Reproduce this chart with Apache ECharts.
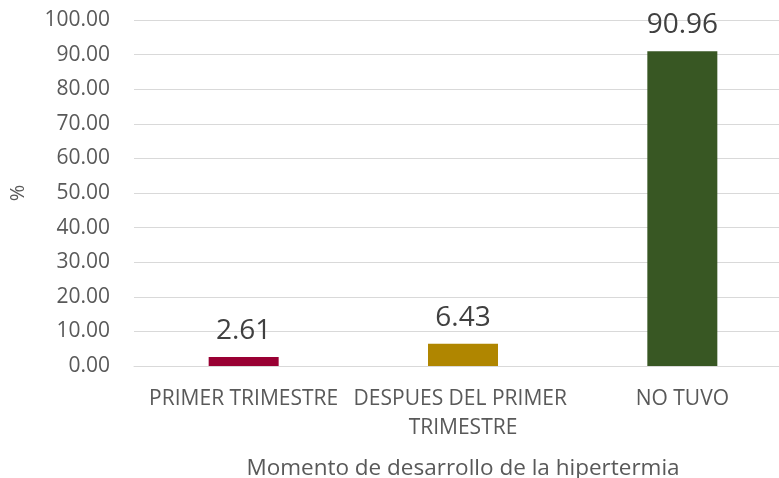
<!DOCTYPE html>
<html><head><meta charset="utf-8">
<script src="https://cdn.jsdelivr.net/npm/echarts@6/dist/echarts.min.js"></script>
<style>html,body{margin:0;padding:0;background:#fff}#c{width:779px;height:478px}</style>
</head><body><div id="c"></div>
<script>
var categories = ['PRIMER TRIMESTRE', 'DESPUES DEL PRIMER TRIMESTRE', 'NO TUVO'];
var values = [2.61, 6.43, 90.96];
var colors = ['#990033', '#b08600', '#385723'];
var xName = 'Momento de desarrollo de la hipertermia';
var yName = '%';
var font = '"Open Sans", "Noto Sans", sans-serif';
var chart = echarts.init(document.getElementById('c'));
chart.setOption({
  animation: false,
  grid: {left: 134, right: -13, top: 20, bottom: 112, outerBoundsMode: 'none', containLabel: false},
  xAxis: {
    type: 'category', data: categories,
    name: xName, nameLocation: 'middle', nameGap: 91,
    nameTextStyle: {fontSize: 22.5, color: '#595959', fontFamily: font},
    axisLine: {lineStyle: {color: '#d9d9d9'}},
    axisTick: {show: false},
    axisLabel: {fontSize: 21, color: '#595959', fontFamily: font, margin: 19, lineHeight: 29,
      width: 240, overflow: 'break', interval: 0}
  },
  yAxis: {
    type: 'value', min: 0, max: 100, interval: 10,
    name: yName, nameLocation: 'middle', nameGap: 106, nameRotate: 90,
    nameTextStyle: {fontSize: 20, color: '#595959', fontFamily: font},
    axisLine: {show: false}, axisTick: {show: false},
    splitLine: {lineStyle: {color: '#d9d9d9'}},
    axisLabel: {fontSize: 21, color: '#595959', fontFamily: font, margin: 24,
      formatter: function (v) { return v.toFixed(2); }}
  },
  series: [{
    type: 'bar', barWidth: 70,
    data: values.map(function (v, i) { return {value: v, itemStyle: {color: colors[i]}}; }),
    label: {show: true, position: 'top', distance: 12, fontSize: 28, color: '#404040', fontFamily: font,
      formatter: function (p) { return p.value.toFixed(2); }}
  }]
});
</script></body></html>
